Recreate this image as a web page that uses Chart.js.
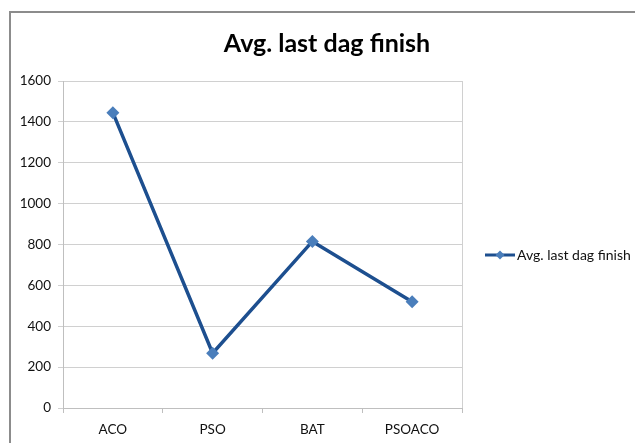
<!DOCTYPE html>
<html>
<head>
<meta charset="utf-8">
<script src="https://cdn.jsdelivr.net/npm/chart.js@4/dist/chart.umd.min.js"></script>
<style>
  html, body { margin: 0; padding: 0; background: #ffffff; }
  #wrap { position: relative; width: 635px; height: 443px; overflow: hidden; }
  #frame { position: absolute; left: 9px; top: 11px; width: 700px; height: 500px;
           border-left: 2px solid #8c8c8c; border-top: 2px solid #8c8c8c; box-sizing: border-box; }
  canvas { position: absolute; left: 0; top: 0; }
</style>
</head>
<body>
<div id="wrap">
  <div id="frame"></div>
  <canvas id="chart" width="635" height="443"></canvas>
</div>
<script>
// Chart content
const chartTitle = 'Avg. last dag finish';
const seriesName = 'Avg. last dag finish';
const categories = ['ACO', 'PSO', 'BAT', 'PSOACO'];
const finishValues = [1445, 268, 815, 520];
const yTicks = [0, 200, 400, 600, 800, 1000, 1200, 1400, 1600];

const FONT = 'Lato, "Open Sans", sans-serif';
const LINE_COLOR = '#1d4f8f';
const MARKER_COLOR = '#4a7ebb';

// Draws the title, the plot's right border and the legend entry
const decorations = {
  id: 'decorations',
  afterDatasetsDraw(chart) {
    const { ctx, chartArea } = chart;
    ctx.save();
    // right edge of the plot area
    ctx.strokeStyle = '#d0d0d0';
    ctx.lineWidth = 1;
    ctx.beginPath();
    ctx.moveTo(Math.round(chartArea.right) + 0.5, chartArea.top);
    ctx.lineTo(Math.round(chartArea.right) + 0.5, chartArea.bottom);
    ctx.stroke();

    // title
    ctx.fillStyle = '#000000';
    ctx.font = 'bold 25px ' + FONT;
    ctx.textAlign = 'center';
    ctx.textBaseline = 'alphabetic';
    ctx.fillText(chartTitle, 327, 52);

    // legend
    const ly = 255;
    ctx.strokeStyle = LINE_COLOR;
    ctx.lineWidth = 3;
    ctx.beginPath();
    ctx.moveTo(485, ly);
    ctx.lineTo(515, ly);
    ctx.stroke();
    ctx.fillStyle = MARKER_COLOR;
    ctx.beginPath();
    ctx.moveTo(500, ly - 4.5);
    ctx.lineTo(504.5, ly);
    ctx.lineTo(500, ly + 4.5);
    ctx.lineTo(495.5, ly);
    ctx.closePath();
    ctx.fill();
    ctx.fillStyle = '#111111';
    ctx.font = '14px ' + FONT;
    ctx.textAlign = 'left';
    ctx.textBaseline = 'middle';
    ctx.fillText(seriesName, 517, ly);
    ctx.restore();
  }
};

new Chart(document.getElementById('chart'), {
  type: 'line',
  data: {
    labels: categories,
    datasets: [{
      label: seriesName,
      data: finishValues,
      borderColor: LINE_COLOR,
      borderWidth: 3.5,
      tension: 0,
      pointStyle: 'rectRot',
      pointRadius: 6.5,
      pointBackgroundColor: MARKER_COLOR,
      pointBorderColor: MARKER_COLOR,
      pointBorderWidth: 0
    }]
  },
  options: {
    responsive: false,
    animation: false,
    devicePixelRatio: 1,
    layout: { padding: { top: 81, right: 173, left: 0, bottom: 0 } },
    plugins: {
      legend: { display: false },
      title: { display: false },
      tooltip: { enabled: false }
    },
    scales: {
      x: {
        type: 'category',
        offset: true,
        afterFit(scale) { scale.height = 35; },
        grid: {
          offset: true,
          drawOnChartArea: false,
          drawTicks: true,
          tickLength: 5,
          color: '#bfbfbf'
        },
        border: { color: '#bfbfbf', width: 1 },
        ticks: {
          color: '#111111',
          font: { family: FONT, size: 13.5 },
          padding: 9,
          maxRotation: 0
        }
      },
      y: {
        min: 0,
        max: 1600,
        afterFit(scale) { scale.width = 63; },
        afterBuildTicks(scale) { scale.ticks = yTicks.map(v => ({ value: v })); },
        grid: {
          color: '#d0d0d0',
          lineWidth: 1,
          tickLength: 5,
          drawTicks: true
        },
        border: { color: '#bfbfbf', width: 1 },
        ticks: {
          color: '#111111',
          font: { family: FONT, size: 13.5 },
          padding: 7,
          callback: v => String(v)
        }
      }
    }
  },
  plugins: [decorations]
});
</script>
</body>
</html>
